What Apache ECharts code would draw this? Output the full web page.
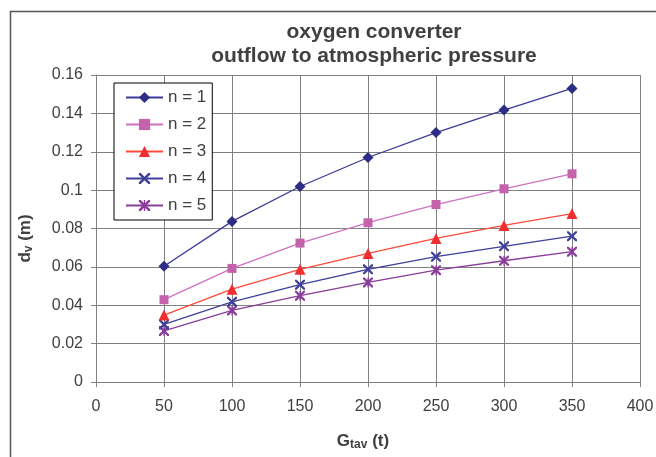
<!DOCTYPE html>
<html>
<head>
<meta charset="utf-8">
<script src="https://cdn.jsdelivr.net/npm/echarts@6/dist/echarts.min.js"></script>
<style>
    html, body { margin: 0; padding: 0; background: #fff; }
    #chart { width: 656px; height: 457px; }
</style>
</head>
<body>
<div id="chart"></div>
<script>
    // mass of charge G_tav (t)
    const gtav = [50, 100, 150, 200, 250, 300, 350];

    // nozzle diameter d_v (m) for each number of nozzles n
    const n1 = [0.0603, 0.0837, 0.1019, 0.1170, 0.1300, 0.1417, 0.1530];
    const n2 = [0.0429, 0.0592, 0.0724, 0.0830, 0.0925, 0.1007, 0.1085];
    const n3 = [0.0349, 0.0484, 0.0587, 0.0670, 0.0748, 0.0816, 0.0878];
    const n4 = [0.0300, 0.0418, 0.0507, 0.0587, 0.0653, 0.0707, 0.0760];
    const n5 = [0.0266, 0.0373, 0.0450, 0.0519, 0.0583, 0.0632, 0.0679];

    const seriesNames = ['n = 1', 'n = 2', 'n = 3', 'n = 4', 'n = 5'];
    const xTicks = [0, 50, 100, 150, 200, 250, 300, 350, 400];
    const yTicks = [0, 0.02, 0.04, 0.06, 0.08, 0.1, 0.12, 0.14, 0.16];

    const font = "'Liberation Sans', Arial, sans-serif";
    const textColor = '#404040';
    const gridColor = '#808080';

    const xMarker = 'path://M0,0L1.6,0L5,3.4L8.4,0L10,0L10,1.6L6.6,5L10,8.4L10,10L8.4,10L5,6.6L1.6,10L0,10L0,8.4L3.4,5L0,1.6Z';
    const starMarker = 'path://M0,0L1.6,0L5,3.4L8.4,0L10,0L10,1.6L6.6,5L10,8.4L10,10L8.4,10L5,6.6L1.6,10L0,10L0,8.4L3.4,5L0,1.6Z'
        + 'M4.4,0L5.6,0L5.6,10L4.4,10Z';

    const styles = [
        { line: '#3a3a96', mark: '#2d2d85', symbol: 'diamond', size: 11 },
        { line: '#d070c0', mark: '#c462ac', symbol: 'rect', size: 9 },
        { line: '#ff4a3a', mark: '#f03030', symbol: 'triangle', size: 11 },
        { line: '#40409a', mark: '#40409a', symbol: xMarker, size: 10 },
        { line: '#8a3c9a', mark: '#8a3c9a', symbol: starMarker, size: 10 }
    ];

    const values = [n1, n2, n3, n4, n5];

    const series = values.map((vals, i) => ({
        name: seriesNames[i],
        type: 'line',
        data: vals.map((v, j) => [gtav[j], v]),
        symbol: styles[i].symbol,
        symbolSize: styles[i].size,
        showSymbol: true,
        lineStyle: { color: styles[i].line, width: 1.3 },
        itemStyle: { color: styles[i].mark, borderWidth: 0 },
        emphasis: { disabled: true },
        z: 10 - i
    }));

    const chart = echarts.init(document.getElementById('chart'));
    chart.setOption({
        animation: false,
        textStyle: { fontFamily: font },
        title: {
            text: 'oxygen converter\noutflow to atmospheric pressure',
            left: 374,
            top: 20,
            textAlign: 'center',
            padding: 0,
            textStyle: {
                fontFamily: font,
                fontSize: 21,
                fontWeight: 'bold',
                color: textColor,
                lineHeight: 24
            }
        },
        graphic: [{
            type: 'rect',
            left: 8,
            top: 9,
            shape: { width: 700, height: 500 },
            style: { fill: 'none', stroke: '#555', lineWidth: 1.5 },
            silent: true
        }],
        legend: {
            orient: 'vertical',
            left: 114,
            top: 83,
            padding: [6, 6, 6, 11],
            itemGap: 10,
            itemWidth: 37,
            itemHeight: 14,
            backgroundColor: '#fff',
            borderColor: '#000',
            borderWidth: 1,
            borderRadius: 0,
            data: seriesNames,
            textStyle: { fontFamily: font, fontSize: 17, color: textColor }
        },
        grid: {
            left: 96,
            right: 16,
            top: 75,
            bottom: 75,
            containLabel: false,
            outerBoundsMode: 'none'
        },
        xAxis: {
            type: 'value',
            min: xTicks[0],
            max: xTicks[xTicks.length - 1],
            interval: 50,
            name: '{m|G}{s|tav}{m| (t)}',
            nameLocation: 'middle',
            nameGap: 49,
            nameTextStyle: {
                padding: [0, 10, 0, 0],
                rich: {
                    m: { fontFamily: font, fontSize: 17, fontWeight: 'bold', color: textColor },
                    s: { fontFamily: font, fontSize: 12, fontWeight: 'bold', color: textColor, verticalAlign: 'bottom', padding: [8, 0, 0, 0] }
                }
            },
            axisLine: { lineStyle: { color: gridColor, width: 1 } },
            axisTick: { show: true, length: 5, lineStyle: { color: gridColor } },
            axisLabel: { fontSize: 16, color: textColor, margin: 17 },
            splitLine: { show: true, lineStyle: { color: gridColor, width: 1 } }
        },
        yAxis: {
            type: 'value',
            min: yTicks[0],
            max: yTicks[yTicks.length - 1],
            interval: 0.02,
            name: '{m|d}{s|v}{m| (m)}',
            nameLocation: 'middle',
            nameRotate: 90,
            nameGap: 61,
            nameTextStyle: {
                padding: [0, 20, 0, 0],
                rich: {
                    m: { fontFamily: font, fontSize: 17, fontWeight: 'bold', color: textColor },
                    s: { fontFamily: font, fontSize: 12, fontWeight: 'bold', color: textColor, verticalAlign: 'bottom', padding: [8, 0, 0, 0] }
                }
            },
            axisLine: { show: true, lineStyle: { color: gridColor, width: 1 } },
            axisTick: { show: true, length: 5, lineStyle: { color: gridColor } },
            axisLabel: { fontSize: 16, color: textColor, margin: 13 },
            splitLine: { show: true, lineStyle: { color: gridColor, width: 1 } }
        },
        series
    });
</script>
</body>
</html>
